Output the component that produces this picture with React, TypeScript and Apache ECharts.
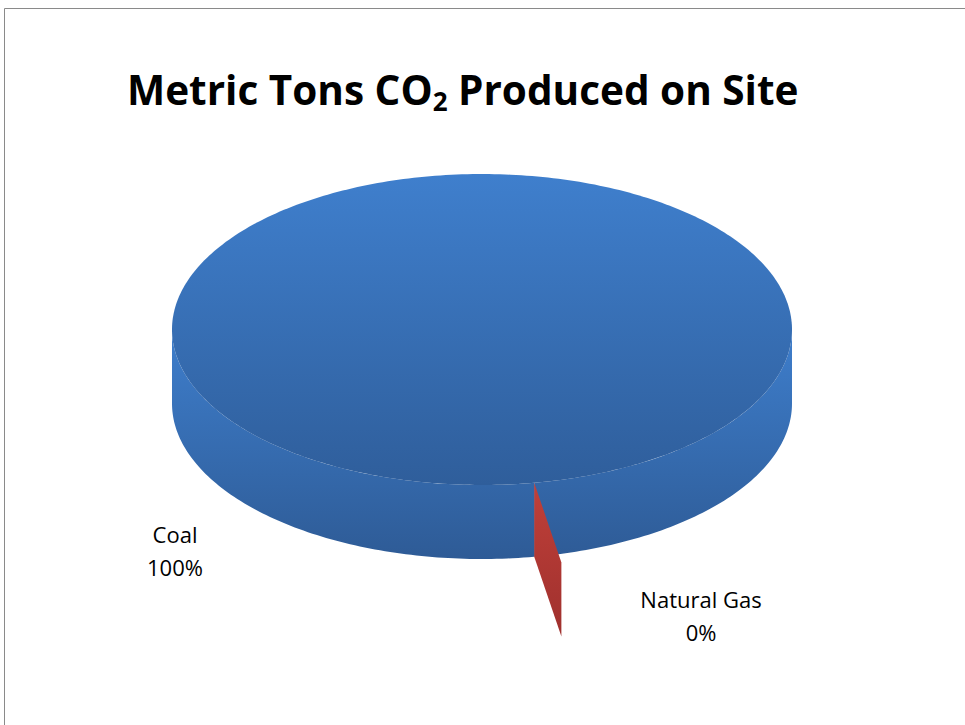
import React, { useEffect, useRef } from "react";
import * as echarts from "echarts";

// Share of on-site CO2 by fuel (percent)
const categories: string[] = ["Coal", "Natural Gas"];
const shares: number[] = [100, 0];

const TITLE_MAIN = "Metric Tons CO";
const TITLE_SUB = "2";
const TITLE_REST = " Produced on Site";

// 3D pie layout (screen pixels)
const CX = 482;
const CY = 329.5;
const RX = 310;
const RY = 155.5;
const DEPTH = 74;
const START_ANGLE = 80.3; // degrees, clockwise from 3 o'clock on screen
const EXPLODE = [0, 0.52]; // explosion per slice, fraction of radius
const LABEL_ANCHORS = [
  [175, 517],
  [701, 582],
];

const FACE_COLORS = [
  { top: ["#3f7fcd", "#2f5e9b"], wall: ["#3e7ecc", "#2e5b96"] },
  { top: ["#c0403a", "#9f302d"], wall: ["#c0403a", "#9f302d"] },
];

const rad = (d: number) => (d * Math.PI) / 180;

function grad(y0: number, y1: number, c: string[]) {
  return new echarts.graphic.LinearGradient(
    0,
    y0,
    0,
    y1,
    [
      { offset: 0, color: c[0] },
      { offset: 1, color: c[1] },
    ],
    true
  );
}

function renderSlice(params: any, api: any) {
  const i = params.dataIndex;
  const total = shares.reduce((a, b) => a + b, 0);
  const before = shares.slice(0, i).reduce((a, b) => a + b, 0);
  const value = api.value(0);
  const s = START_ANGLE + (360 * before) / total;
  const span = (360 * value) / total;
  const e = s + span;
  const mid = s + span / 2;
  const ex = EXPLODE[i] || 0;
  const ox = ex * RX * Math.cos(rad(mid));
  const oy = ex * RY * Math.sin(rad(mid));
  const pt = (deg: number, k: number, dz: number) => [
    CX + ox + k * RX * Math.cos(rad(deg)),
    CY + oy + k * RY * Math.sin(rad(deg)) + dz,
  ];
  const col = FACE_COLORS[i];
  const children: any[] = [];

  // radial cut faces; an exploded slice only shows what lies outside the main body
  if (span < 359.99) {
    const k0 = ex > 0 ? Math.max(0, 1 - ex) : 0;
    const edges = span > 0 ? [s, e] : [s];
    edges.forEach((a) => {
      const pts = [pt(a, k0, 0), pt(a, 1, 0), pt(a, 1, DEPTH), pt(a, k0, DEPTH)];
      const ys = pts.map((p) => p[1]);
      children.push({
        type: "polygon",
        shape: { points: pts },
        style: { fill: grad(Math.min(...ys), Math.max(...ys), col.wall) },
      });
    });
  }

  // outer wall, front half only
  if (span > 0) {
    const ranges: number[][] = [];
    for (let base = 0; base <= 720; base += 360) {
      const a0 = Math.max(s, base);
      const a1 = Math.min(e, base + 180);
      if (a1 > a0) ranges.push([a0, a1]);
    }
    ranges.forEach(([a0, a1]) => {
      const top: number[][] = [];
      const bot: number[][] = [];
      const n = Math.max(2, Math.ceil((a1 - a0) / 1));
      for (let j = 0; j <= n; j++) {
        const a = a0 + ((a1 - a0) * j) / n;
        top.push(pt(a, 1, 0));
        bot.push(pt(a, 1, DEPTH));
      }
      children.push({
        type: "polygon",
        shape: { points: top.concat(bot.reverse()) },
        style: { fill: grad(CY, CY + RY + DEPTH, col.wall) },
      });
    });

    // top face
    const rim: number[][] = [];
    const n = Math.max(2, Math.ceil(span));
    for (let j = 0; j <= n; j++) rim.push(pt(s + (span * j) / n, 1, 0));
    const pts = span >= 359.99 ? rim : [pt(0, 0, 0)].concat(rim);
    children.push({
      type: "polygon",
      shape: { points: pts },
      style: { fill: grad(CY - RY, CY + RY, col.top) },
    });
  }

  const pct = Math.round((100 * value) / total);
  children.push({
    type: "text",
    x: LABEL_ANCHORS[i][0],
    y: LABEL_ANCHORS[i][1],
    style: {
      text: `${categories[i]}\n${pct}%`,
      fill: "#000",
      fontFamily: "Open Sans",
      fontSize: 22,
      lineHeight: 33,
      align: "center",
      verticalAlign: "top",
    },
  });

  return { type: "group", children };
}

export default function App() {
  const ref = useRef<HTMLDivElement>(null);
  useEffect(() => {
    if (!ref.current) return;
    const chart = echarts.init(ref.current, undefined, { renderer: "svg" });
    chart.setOption({
      animation: false,
      backgroundColor: "#ffffff",
      title: {
        text: `${TITLE_MAIN}{sub|${TITLE_SUB}}${TITLE_REST}`,
        left: 122,
        top: 59,
        textStyle: {
          fontFamily: "Open Sans",
          fontWeight: "bold",
          fontSize: 40.5,
          lineHeight: 50,
          color: "#000",
          rich: {
            sub: {
              fontFamily: "Open Sans",
              fontWeight: "bold",
              fontSize: 26,
              color: "#000",
              lineHeight: 20,
              verticalAlign: "bottom",
            },
          },
        },
      },
      graphic: [
        {
          type: "rect",
          shape: { x: 4.5, y: 8.5, width: 1000, height: 800 },
          style: { fill: "none", stroke: "#8a8a8a", lineWidth: 1 },
          silent: true,
        },
      ],
      series: [
        {
          type: "custom",
          coordinateSystem: "none",
          renderItem: renderSlice,
          data: categories.map((name, i) => ({ name, value: shares[i] })),
        },
      ],
    });
    return () => chart.dispose();
  }, []);
  return (
    <div
      ref={ref}
      style={{ position: "fixed", left: 0, top: 0, width: 965, height: 725 }}
    />
  );
}
